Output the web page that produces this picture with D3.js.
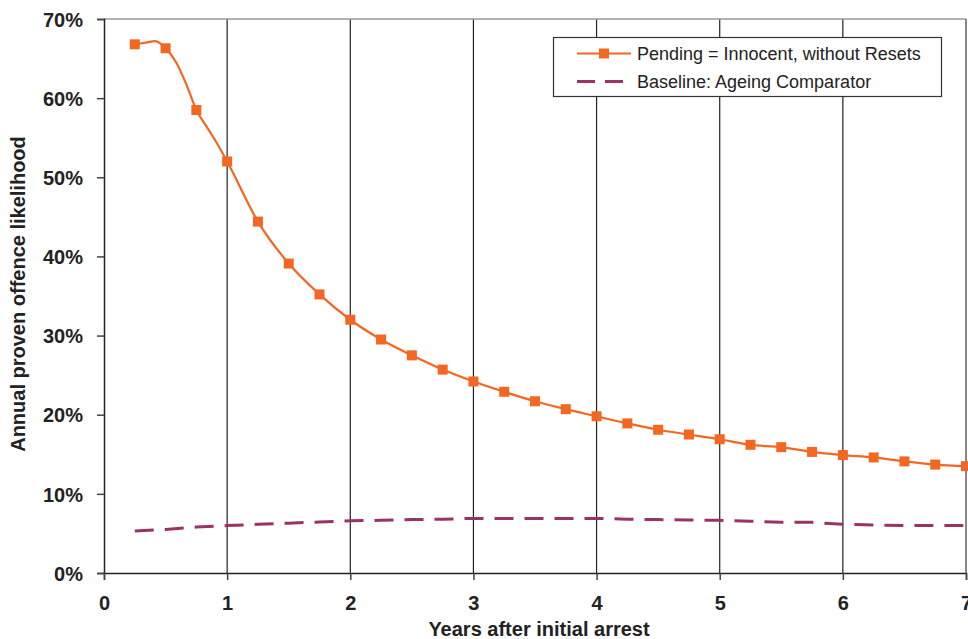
<!DOCTYPE html>
<html>
<head>
<meta charset="utf-8">
<script src="https://cdn.jsdelivr.net/npm/d3@7"></script>
<style>
  html, body { margin: 0; padding: 0; background: #fff; }
  svg { display: block; font-family: Arial, "Liberation Sans", Helvetica, sans-serif; }
</style>
</head>
<body>
<svg id="chart" width="968" height="639"></svg>
<script>
// ---- data ----
const pendingYears  = [0.25, 0.333, 0.417, 0.5, 0.583, 0.667, 0.75, 0.833, 0.917, 1.0,
                       1.25, 1.5, 1.75, 2.0, 2.25, 2.5, 2.75, 3.0, 3.25, 3.5, 3.75, 4.0,
                       4.25, 4.5, 4.75, 5.0, 5.25, 5.5, 5.75, 6.0, 6.25, 6.5, 6.75, 7.0];
const pendingValues = [66.8, 67.0, 67.2, 66.3, 64.6, 61.8, 58.5, 56.4, 54.3, 52.0,
                       44.4, 39.1, 35.2, 32.0, 29.5, 27.5, 25.7, 24.2, 22.9, 21.7, 20.7, 19.8,
                       18.9, 18.1, 17.5, 16.9, 16.2, 15.9, 15.3, 14.9, 14.6, 14.1, 13.7, 13.5];
const baselineYears  = [0.25, 0.5, 0.75, 1.0, 1.25, 1.5, 1.75, 2.0, 2.25, 2.5, 2.75, 3.0, 3.25, 3.5,
                        3.75, 4.0, 4.25, 4.5, 4.75, 5.0, 5.25, 5.5, 5.75, 6.0, 6.25, 6.5, 6.75, 7.0];
const baselineValues = [5.3, 5.5, 5.8, 6.0, 6.15, 6.3, 6.45, 6.6, 6.65, 6.75, 6.8, 6.9, 6.9, 6.9,
                        6.9, 6.9, 6.8, 6.75, 6.7, 6.65, 6.55, 6.4, 6.4, 6.15, 6.05, 6.0, 6.0, 6.0];
const xTicks = [0, 1, 2, 3, 4, 5, 6, 7];
const yTicks = [0, 10, 20, 30, 40, 50, 60, 70];
const seriesNames = ["Pending = Innocent, without Resets", "Baseline: Ageing Comparator"];
const xTitle = "Years after initial arrest";
const yTitle = "Annual proven offence likelihood";

// ---- layout ----
const svg = d3.select("#chart");
const pLeft = 104, pRight = 966, pTop = 19, pBottom = 573;
const x = d3.scaleLinear().domain([0, 7]).range([pLeft, pRight]);
const y = d3.scaleLinear().domain([0, 70]).range([pBottom, pTop]);
const orange = "#F26722", plum = "#993366";

// gridlines (vertical)
svg.append("g").selectAll("line").data(xTicks.filter(d => d > 0 && d < 7)).join("line")
  .attr("x1", d => x(d)).attr("x2", d => x(d)).attr("y1", pTop).attr("y2", pBottom)
  .attr("stroke", "#222").attr("stroke-width", 1.2);
// plot border top and right (gray)
svg.append("line").attr("x1", pLeft).attr("x2", pRight).attr("y1", pTop).attr("y2", pTop)
  .attr("stroke", "#999").attr("stroke-width", 1.5);
svg.append("line").attr("x1", pRight).attr("x2", pRight).attr("y1", pTop).attr("y2", pBottom)
  .attr("stroke", "#888").attr("stroke-width", 2);

// axes
const yAxis = d3.axisLeft(y).tickValues(yTicks).tickSize(7).tickFormat(d => d + "%");
const gy = svg.append("g").attr("transform", `translate(${pLeft},0)`).call(yAxis);
gy.select(".domain").attr("stroke", "#222").attr("stroke-width", 1.5);
gy.selectAll(".tick line").attr("stroke", "#444").attr("stroke-width", 1.5);
gy.selectAll(".tick text").attr("x", -21).attr("dy", "0.36em")
  .attr("font-size", 20).attr("font-weight", "bold").attr("fill", "#222")
  .attr("font-family", "Arial, 'Liberation Sans', sans-serif");

const xAxis = d3.axisBottom(x).tickValues(xTicks).tickSize(7).tickFormat(d3.format("d"));
const gx = svg.append("g").attr("transform", `translate(0,${pBottom})`).call(xAxis);
gx.select(".domain").attr("stroke", "#222").attr("stroke-width", 1.5);
gx.selectAll(".tick line").attr("stroke", "#444").attr("stroke-width", 1.5);
gx.selectAll(".tick text").attr("y", 37).attr("dy", 0)
  .attr("font-size", 20).attr("font-weight", "bold").attr("fill", "#222")
  .attr("font-family", "Arial, 'Liberation Sans', sans-serif");

// axis titles
svg.append("text").attr("x", (pLeft + pRight) / 2 + 4).attr("y", 636)
  .attr("text-anchor", "middle").attr("font-size", 20).attr("font-weight", "bold")
  .attr("fill", "#222").text(xTitle);
svg.append("text").attr("transform", "translate(25,294) rotate(-90)")
  .attr("text-anchor", "middle").attr("font-size", 20).attr("font-weight", "bold")
  .attr("fill", "#222").text(yTitle);

// baseline series (dashed)
const basePts = baselineYears.map((d, i) => [d, baselineValues[i]]);
svg.append("path").datum(basePts)
  .attr("d", d3.line().x(d => x(d[0])).y(d => y(d[1])))
  .attr("fill", "none").attr("stroke", plum).attr("stroke-width", 3)
  .attr("stroke-dasharray", "19,11");

// pending series
const pendPts = pendingYears.map((d, i) => [d, pendingValues[i]]);
svg.append("path").datum(pendPts)
  .attr("d", d3.line().x(d => x(d[0])).y(d => y(d[1])).curve(d3.curveMonotoneX))
  .attr("fill", "none").attr("stroke", orange).attr("stroke-width", 2.2);
const markerPts = pendPts.filter(d => Math.abs(d[0] * 4 - Math.round(d[0] * 4)) < 1e-6);
svg.append("g").selectAll("rect").data(markerPts).join("rect")
  .attr("x", d => x(d[0]) - 5).attr("y", d => y(d[1]) - 5)
  .attr("width", 10).attr("height", 10).attr("fill", orange);

// legend
const lg = svg.append("g");
lg.append("rect").attr("x", 553.5).attr("y", 37.5).attr("width", 388).attr("height", 59)
  .attr("fill", "#fff").attr("stroke", "#333").attr("stroke-width", 1.2);
lg.append("line").attr("x1", 577).attr("x2", 631).attr("y1", 53.5).attr("y2", 53.5)
  .attr("stroke", orange).attr("stroke-width", 2.2);
lg.append("rect").attr("x", 604 - 5).attr("y", 53.5 - 5).attr("width", 10).attr("height", 10)
  .attr("fill", orange);
lg.append("line").attr("x1", 577).attr("x2", 624).attr("y1", 81.5).attr("y2", 81.5)
  .attr("stroke", plum).attr("stroke-width", 3).attr("stroke-dasharray", "18,10");
lg.selectAll("text.lbl").data(seriesNames).join("text").attr("class", "lbl")
  .attr("x", 637).attr("y", (d, i) => 60 + i * 28.3)
  .attr("font-size", 18).attr("fill", "#222").text(d => d);
</script>
</body>
</html>
